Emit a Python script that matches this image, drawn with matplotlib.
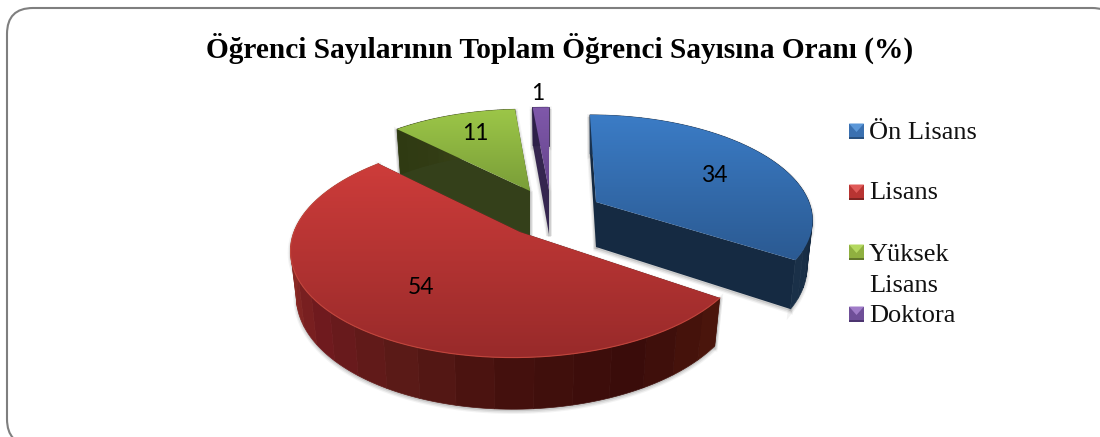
import matplotlib
matplotlib.use("Agg")
import matplotlib.pyplot as plt
import matplotlib.patches as mpatches
from matplotlib.colors import LinearSegmentedColormap
import numpy as np

categories = ["Ön Lisans", "Lisans", "Yüksek\nLisans", "Doktora"]
values = [34, 54, 11, 1]
title = "Öğrenci Sayılarının Toplam Öğrenci Sayısına Oranı (%)"

# everything below is in image pixels, y going down
W, H = 1100, 437
K = 0.148      # perspective strength
BANDS = 22     # facets on the rounded wall
# apex x, apex y, radius x, radius y, skew, angle trim, thickness
GEOM = [
    (596, 202, 213, 100, -7, 0, 45),
    (520, 232, 226, 107, 6, 2, 44),
    (530, 191, 211, 94, -4, 0, 50),
    (549, 190, 300, 95, 0, 0, 44),
]
TOP = [("#3b7cc6", "#2b5a92"), ("#cd3c3a", "#982a2a"), ("#9cc648", "#7a9e38"), ("#7f58aa", "#65458c")]
WALL = [
    ["#1a3350", "#132a47", "#0f243e", "#10233c", "#1a3048"],
    ["#4a150c", "#3a0c0a", "#44100d", "#5a1a17", "#6f1a1e", "#8a2a25", "#8a2a25", "#8a2a25"],
    ["#2f3a12", "#323c14", "#3c4818", "#38431a"],
    ["#2c1f47", "#33244f"],
]
EDGE_WALL = ["#152a42", "#3d130b", "#34401a", "#35264f"]
LABEL_POS = [(714, 176), (421, 287), (475, 133), (538, 93)]
LEGEND_Y = [131, 192, 252, 314]
LEGEND_BASE = [139, 199, 261, 322]
LEGEND_EDGE = [("#5b97d8", "#3a70b0", "#28507f"), ("#e05a58", "#b83432", "#7f2422"),
               ("#b4d860", "#8fb040", "#62782c"), ("#a07cc8", "#6f4f98", "#4c3570")]

plt.rcParams["font.family"] = ["Liberation Serif", "DejaVu Serif"]

fig = plt.figure(figsize=(W / 100, H / 100), dpi=100)
ax = fig.add_axes([0, 0, 1, 1])
ax.set_xlim(0, W)
ax.set_ylim(H, 0)
ax.axis("off")

# the frame runs off the right and bottom of the picture
frame = mpatches.FancyBboxPatch((7 + 26, 8 + 26), 1111 - 52, 437 - 52,
                                boxstyle="round,pad=26,rounding_size=26",
                                facecolor="white", edgecolor="#7f7f7f", linewidth=1.5)
ax.add_patch(frame)


def project(theta, g):
    ax_, ay, rx, ry, sk = g[:5]
    u, v = np.sin(np.radians(theta)), np.cos(np.radians(theta))
    s = 1 / (1 + K * v)
    x = ax_ + (rx * u + sk * v) * s
    y = ay - ry * v * s
    return x, y, s


def lower(x, y, s, g):
    # the bottom rim of the slice
    return g[0] + (x - g[0]) * 0.975, y + g[6] * s


def draw_slice(i, start, stop):
    g = GEOM[i]
    th = np.linspace(start + g[5], stop - g[5], 154)
    x, y, s = project(th, g)
    xb, yb = lower(x, y, s, g)
    ap = (g[0], g[1])
    apb = (g[0], g[1] + g[6])
    z = 3 + {3: 0, 2: 1, 0: 2, 1: 3}[i]

    # soft shadow round the walls, kept a little low so the top rim stays clean
    for lw, a in [(4, 0.08), (2.2, 0.14)]:
        ax.fill(np.r_[x, xb[::-1]], np.r_[y, yb[::-1]] + 2, color="#707070", alpha=a, lw=lw, zorder=z - 0.1)
        for k in (0, -1):
            ax.fill([x[k], ap[0], apb[0], xb[k]], np.array([y[k], ap[1], apb[1], yb[k]]) + 2,
                    color="#707070", alpha=a, lw=lw, zorder=z - 0.1)

    for k in (0, -1):
        ax.fill([x[k], ap[0], apb[0], xb[k]], [y[k], ap[1], apb[1], yb[k]],
                color=EDGE_WALL[i], lw=0, zorder=z)
    cm = LinearSegmentedColormap.from_list("w", WALL[i])
    edges = np.linspace(0, len(th) - 1, BANDS + 1).astype(int)
    for b in range(BANDS):
        j0, j1 = edges[b], edges[b + 1] + 1
        ax.fill(np.r_[x[j0:j1], xb[j0:j1][::-1]], np.r_[y[j0:j1], yb[j0:j1][::-1]],
                color=cm(b / (BANDS - 1)), lw=0.5, zorder=z + 0.1)

    # top face with a vertical gradient
    px, py = np.r_[ap[0], x], np.r_[ap[1], y]
    poly = mpatches.Polygon(np.c_[px, py], closed=True, fc="none", ec="none", zorder=z + 0.2)
    ax.add_patch(poly)
    cmt = LinearSegmentedColormap.from_list("t", TOP[i])
    im = ax.imshow(np.linspace(0, 1, 128)[:, None], cmap=cmt, aspect="auto", origin="upper",
                   extent=(px.min(), px.max(), py.max(), py.min()), zorder=z + 0.2)
    im.set_clip_path(poly)
    if i == 1:
        ax.plot(x, y, color="#c2453c", lw=0.8, zorder=z + 0.3)


angles = np.cumsum([0] + values) * 360 / sum(values)
for i in [3, 2, 0, 1]:
    draw_slice(i, angles[i], angles[i + 1])
ax.set_xlim(0, W)
ax.set_ylim(H, 0)

ax.text(559.5, 48, title, ha="center", va="center", fontsize=21.2, fontweight="bold", color="black", zorder=20)

for v, (lx, ly) in zip(values, LABEL_POS):
    ax.text(lx, ly, str(v), ha="center", va="center", fontsize=16.5, color="black",
            family=["Lato", "DejaVu Sans"], zorder=20)

# legend with bevelled keys
for i, name in enumerate(categories):
    x0, x1 = 849, 864
    yc = LEGEND_Y[i]
    y0, y1 = yc - 7.5, yc + 7.5
    hi, mid, lo = LEGEND_EDGE[i]
    ax.fill([x0, x1, x1, x0], [y0, y0, y1, y1], color=mid, lw=0, zorder=20)
    ax.fill([x0, x1, (x0 + x1) / 2], [y0, y0, yc + 1], color=hi, lw=0, zorder=21)
    ax.fill([x0, x1, x1, x0], [y1 - 2, y1 - 2, y1, y1], color=lo, lw=0, zorder=21)
    for ln, part in enumerate(name.split("\n")):
        ax.text(869, LEGEND_BASE[i] + ln * 31, part, ha="left", va="baseline", fontsize=19, color="#111111", zorder=21)

fig.savefig("out.png", dpi=100, facecolor="white")
plt.close(fig)
